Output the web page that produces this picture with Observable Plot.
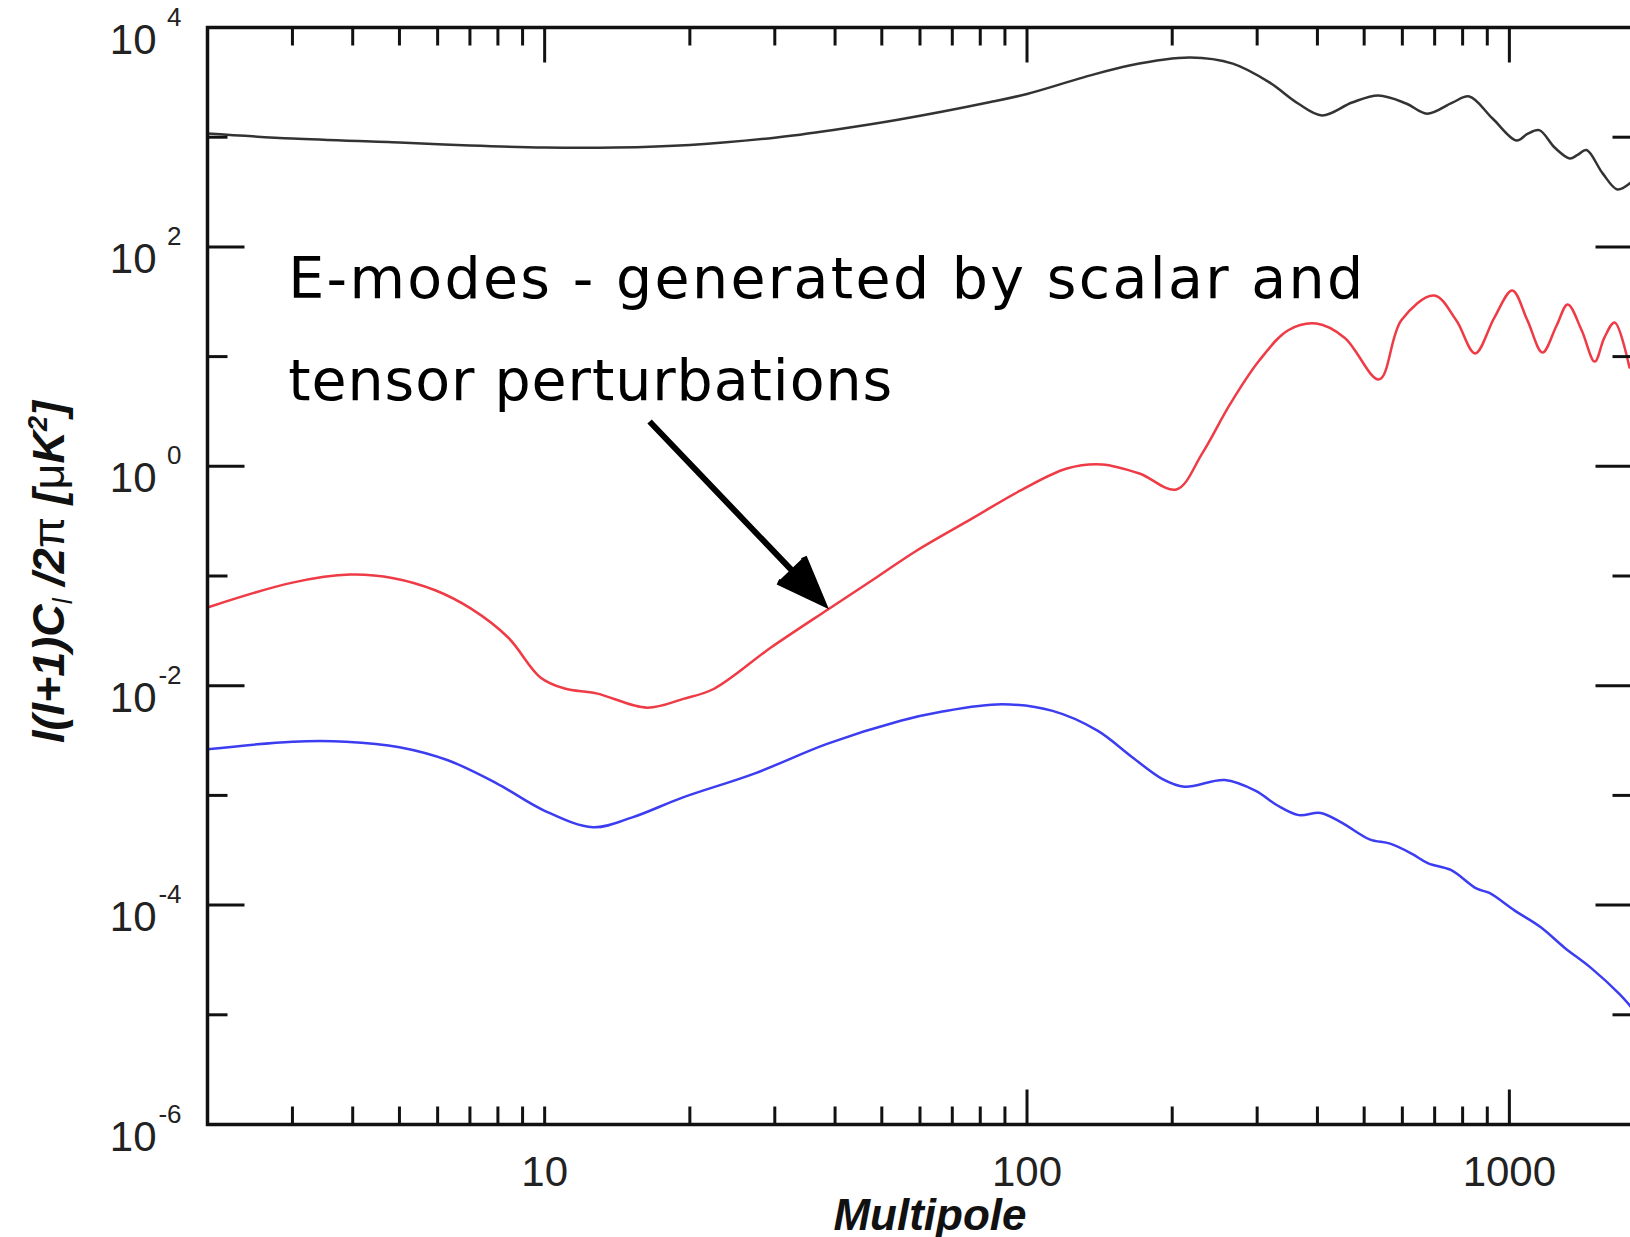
<!DOCTYPE html>
<html>
<head>
<meta charset="utf-8">
<script src="https://cdn.jsdelivr.net/npm/d3@7"></script>
<script src="https://cdn.jsdelivr.net/npm/@observablehq/plot@0.6"></script>
<style>
html, body { margin: 0; padding: 0; background: #fff; overflow: hidden; }
</style>
</head>
<body>
<script>
// ---- data ----
const ttL = [2, 3, 5, 7, 10, 14, 20, 30, 40, 54, 84, 100, 131, 163, 218, 267, 318, 364, 409, 472, 535, 611, 675, 762, 826, 923, 1035, 1090, 1153, 1241, 1334, 1385, 1445, 1561, 1675, 1790];
const ttV = [1080, 973, 895, 840, 805, 805, 850, 990, 1170, 1440, 2090, 2480, 3510, 4510, 5330, 4680, 3160, 2040, 1580, 2070, 2400, 2030, 1640, 2070, 2350, 1480, 933, 1070, 1160, 805, 640, 690, 764, 468, 334, 390];

const eeL = [2, 3, 3.95, 4.86, 5.93, 7.05, 8.4, 9.8, 11, 12.8, 16.3, 19.4, 22.4, 29.5, 38.8, 48.9, 59, 77, 97, 121, 143, 171, 204, 231, 264, 303, 348, 398, 456, 537, 597, 698, 776, 849, 931, 1014, 1090, 1171, 1253, 1321, 1412, 1503, 1574, 1653, 1774];
const eeV = [0.0516, 0.087, 0.103, 0.0955, 0.0741, 0.0501, 0.0275, 0.0119, 0.00942, 0.00851, 0.00631, 0.00759, 0.00933, 0.0224, 0.0501, 0.098, 0.17, 0.335, 0.603, 0.955, 1.04, 0.859, 0.615, 1.32, 3.72, 9.2, 17.4, 20.0, 14.8, 6.2, 21.4, 36.1, 21.4, 10.7, 22.7, 40.1, 21.4, 10.9, 19.2, 29.9, 17.4, 9.0, 14.9, 20.5, 7.94];

const bbL = [2, 3, 3.87, 5, 6.3, 7.95, 10, 12.6, 15.2, 19.3, 27.2, 38.5, 54.7, 66, 88.7, 113, 140, 165, 191, 212, 257, 298, 330, 366, 406, 450, 513, 566, 627, 679, 756, 856, 909, 1026, 1160, 1303, 1474, 1690, 1790];
const bbV = [0.00263, 0.00309, 0.00309, 0.00275, 0.00209, 0.00129, 0.000724, 0.000513, 0.000631, 0.000955, 0.00158, 0.00295, 0.00479, 0.00575, 0.00676, 0.00589, 0.00389, 0.00224, 0.00141, 0.00120, 0.00138, 0.00110, 0.000813, 0.000661, 0.000692, 0.000562, 0.000398, 0.000363, 0.000295, 0.000240, 0.000209, 0.000141, 0.000129, 0.0000891, 0.0000631, 0.0000407, 0.0000269, 0.0000155, 0.0000117];

// axis ticks
const xTickLabels = [10, 100, 1000];
const xMinorTicks = [3, 4, 5, 6, 7, 8, 9, 20, 30, 40, 50, 60, 70, 80, 90, 200, 300, 400, 500, 600, 700, 800, 900];
const xBottomLong = [100, 1000];
const yLabelExps = [4, 2, 0, -2, -4, -6];
const yMinorExps = [3, 1, -1, -3, -5];

// annotation
const annoLines = ["E-modes - generated by scalar and", "tensor perturbations"];
const annoAt = [{l: 2.94, v: 33.9}, {l: 2.94, v: 4.0}];
const arrowData = [{l1: 16.5, v1: 2.56, l2: 38.8, v2: 0.0501}];

const xTitle = "Multipole";
const yTitlePlain = "l(l+1)Cl /2π [μK2]";

// ---- build ----
const tt = ttL.map((l, i) => ({l, v: ttV[i]}));
const ee = eeL.map((l, i) => ({l, v: eeV[i]}));
const bb = bbL.map((l, i) => ({l, v: bbV[i]}));

const tickShape = {draw(c, l) { c.moveTo(0, 0); c.lineTo(0, -l); }};
const TICK = "#111";
const xTicks = (data, side, len) => Plot.vector(data, {
  x: d => d, frameAnchor: side, length: len, rotate: side === "bottom" ? 0 : 180,
  anchor: "start", shape: tickShape, stroke: TICK, strokeWidth: 3, strokeLinecap: "butt"
});
const yTicks = (data, side, len) => Plot.vector(data, {
  y: d => 10 ** d, frameAnchor: side, length: len, rotate: side === "left" ? 90 : -90,
  anchor: "start", shape: tickShape, stroke: TICK, strokeWidth: 3, strokeLinecap: "butt"
});

const svg = Plot.plot({
  width: 1640,
  height: 1237,
  marginLeft: 207,
  marginRight: 8,
  marginTop: 27,
  marginBottom: 113,
  style: {background: "white", maxWidth: "none", fontFamily: "Liberation Sans, Arial, sans-serif"},
  x: {type: "log", domain: [2, 1800], axis: null},
  y: {type: "log", domain: [1e-6, 1e4], axis: null},
  marks: [
    Plot.line(tt, {x: "l", y: "v", stroke: "#333333", strokeWidth: 2.5, curve: "catmull-rom"}),
    Plot.line(ee, {x: "l", y: "v", stroke: "#ee3b45", strokeWidth: 2.5, curve: "catmull-rom"}),
    Plot.line(bb, {x: "l", y: "v", stroke: "#3c3cf0", strokeWidth: 2.5, curve: "catmull-rom"}),
    // ticks
    xTicks(xMinorTicks, "top", 18),
    xTicks(xTickLabels, "top", 35),
    xTicks(xMinorTicks.concat([10]), "bottom", 18),
    xTicks(xBottomLong, "bottom", 35),
    yTicks(yMinorExps, "left", 20),
    yTicks(yLabelExps, "left", 37),
    yTicks(yMinorExps, "right", 20),
    yTicks(yLabelExps, "right", 37),
    Plot.frame({stroke: "#111", strokeWidth: 3.5}),
    // y tick labels
    Plot.text(yLabelExps, {y: d => 10 ** d, frameAnchor: "left", text: () => "10", textAnchor: "end", lineAnchor: "bottom",
      dx: -51, dy: 26, fontSize: 42, fontFamily: "Liberation Sans", fill: "#222"}),
    Plot.text(yLabelExps, {y: d => 10 ** d, frameAnchor: "left", text: d => String(d), textAnchor: "end", lineAnchor: "bottom",
      dx: -26, dy: -2, fontSize: 26, fontFamily: "Liberation Sans", fill: "#222"}),
    // x tick labels
    Plot.text(xTickLabels, {x: d => d, frameAnchor: "bottom", text: d => String(d), textAnchor: "middle", lineAnchor: "bottom",
      dy: 61, fontSize: 42, fontFamily: "Liberation Sans", fill: "#222"}),
    // x title
    Plot.text([xTitle], {frameAnchor: "bottom", text: d => d, textAnchor: "middle", lineAnchor: "bottom", dx: 10, dy: 105,
      fontSize: 44, fontWeight: "bold", fontStyle: "italic", fontFamily: "Liberation Sans", fill: "#111"}),
    // y title (rich text filled in below)
    Plot.text([yTitlePlain], {frameAnchor: "left", text: d => d, rotate: -90, textAnchor: "middle", lineAnchor: "bottom",
      dx: -144, dy: -4, fontSize: 45, fontWeight: "bold", fontStyle: "italic", fontFamily: "Liberation Sans", fill: "#111"}),
    // annotation
    Plot.text([annoLines[0]], {x: () => annoAt[0].l, y: () => annoAt[0].v, text: d => d, textAnchor: "start", lineAnchor: "bottom",
      fontSize: 57, fontFamily: "DejaVu Sans", fill: "#000"}),
    Plot.text([annoLines[1]], {x: () => annoAt[1].l, y: () => annoAt[1].v, text: d => d, textAnchor: "start", lineAnchor: "bottom",
      fontSize: 57, fontFamily: "DejaVu Sans", fill: "#000"}),
    Plot.arrow(arrowData, {x1: "l1", y1: "v1", x2: "l2", y2: "v2", stroke: "#000", fill: "#000", strokeWidth: 6,
      headLength: 12.5, headAngle: 42, insetEnd: 8, strokeLinejoin: "miter", strokeMiterlimit: 10, strokeLinecap: "butt"})
  ]
});

document.body.append(svg);

const byText = (s) => d3.select(svg).selectAll("text").filter(function () { return this.textContent === s; });

// rich y title
const yt = byText(yTitlePlain);
yt.text(null);
const parts = [
  {t: "l(l+1)C"},
  {t: "l", size: 27, dy: 8, weight: "normal"},
  {t: " /2", dy: -8},
  {t: "π", weight: "normal", style: "normal"},
  {t: " ["},
  {t: "μ", weight: "normal", style: "normal"},
  {t: "K"},
  {t: "2", size: 27, dy: -17},
  {t: "]", dy: 17}
];
for (const p of parts) {
  const s = yt.append("tspan").text(p.t);
  if (p.size) s.attr("font-size", p.size);
  if (p.dy) s.attr("dy", p.dy);
  if (p.weight) s.attr("font-weight", p.weight);
  if (p.style) s.attr("font-style", p.style);
}

// annotation line widths
byText(annoLines[0]).attr("textLength", 1075).attr("lengthAdjust", "spacing");
byText(annoLines[1]).attr("textLength", 604).attr("lengthAdjust", "spacing");
</script>
</body>
</html>
